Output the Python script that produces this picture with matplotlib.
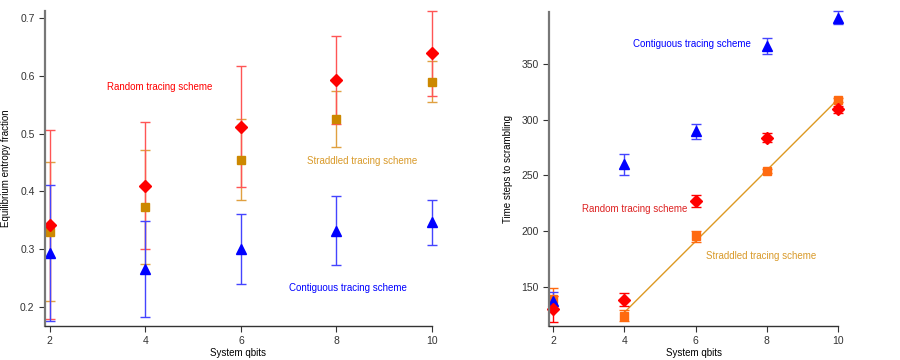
import numpy as np
import matplotlib.pyplot as plt

plt.rcParams['font.family'] = ['Liberation Sans', 'DejaVu Sans']

qbits = [2, 4, 6, 8, 10]

# Equilibrium entropy fraction (left panel)
ent_random = [0.342, 0.410, 0.512, 0.593, 0.639]
ent_random_err = [0.164, 0.110, 0.105, 0.076, 0.074]
ent_straddled = [0.330, 0.373, 0.455, 0.525, 0.590]
ent_straddled_err = [0.120, 0.099, 0.070, 0.049, 0.036]
ent_contig = [0.293, 0.266, 0.300, 0.332, 0.346]
ent_contig_err = [0.118, 0.083, 0.060, 0.060, 0.039]

# Time steps to scrambling (right panel)
scr_random = [130, 138.4, 226.9, 284.0, 309.3]
scr_random_err = [12, 5.7, 5.5, 4, 3]
scr_straddled = [139.5, 124, 195.5, 254.2, 317.5]
scr_straddled_err = [9, 5, 5, 2, 2]
scr_contig = [137.4, 260, 289.7, 366.2, 391.6]
scr_contig_err = [8, 9.5, 6.7, 7.5, 6]

RED = '#ff0000'
BLUE = '#0000ff'
GOLD = '#cc8800'
GOLD_ERR = '#e0a040'
ORANGE = '#ff6a10'
FIT = '#dd9922'

fig = plt.figure(figsize=(9, 3.6), dpi=100)
ax1 = fig.add_axes([0.05, 0.095, 0.43, 0.875])
ax2 = fig.add_axes([0.61, 0.095, 0.3214, 0.8725])


def style(ax):
    for s in ['top', 'right']:
        ax.spines[s].set_visible(False)
    ax.spines['left'].set_color('#777777')
    ax.spines['left'].set_linewidth(1.6)
    ax.spines['bottom'].set_color('#333333')
    ax.spines['bottom'].set_linewidth(1.0)
    ax.tick_params(labelsize=7.5, length=4, width=0.8, colors='#333333', direction='out')
    ax.set_xticks(qbits)
    ax.set_xlabel('System qbits', fontsize=7, labelpad=1)


ekw = dict(elinewidth=1.0, capsize=3.5, capthick=1.0, linestyle='none', clip_on=False)

# left panel
ax1.errorbar(qbits, ent_straddled, yerr=ent_straddled_err, marker='s', ms=6, color=GOLD,
             ecolor=GOLD_ERR, **ekw)
ax1.errorbar(qbits, ent_random, yerr=ent_random_err, marker='D', ms=6, color=RED,
             ecolor='#ff5555', **ekw)
ax1.errorbar(qbits, ent_contig, yerr=ent_contig_err, marker='^', ms=6.5, color=BLUE,
             ecolor='#4444ff', **ekw)
ax1.set_xlim(1.9, 10.0)
ax1.set_ylim(0.167, 0.7127)
ax1.set_yticks([0.2, 0.3, 0.4, 0.5, 0.6, 0.7])
ax1.set_ylabel('Equilibrium entropy fraction', fontsize=7)
ax1.yaxis.set_label_coords(-0.088, 0.5)
style(ax1)
ax1.text(3.2, 0.58, 'Random tracing scheme', color=RED, fontsize=7, va='center')
ax1.text(7.39, 0.452, 'Straddled tracing scheme', color='#d99a2a', fontsize=7, va='center')
ax1.text(7.01, 0.2326, 'Contiguous tracing scheme', color=BLUE, fontsize=7, va='center')

# right panel
fit_x = np.array(qbits[1:])
coef = np.polyfit(fit_x, scr_straddled[1:], 1)
ax2.plot(fit_x, np.polyval(coef, fit_x), color=FIT, lw=1.0, clip_on=False)
ax2.errorbar(qbits, scr_straddled, yerr=scr_straddled_err, marker='s', ms=6, color=ORANGE,
             ecolor=ORANGE, **ekw)
ax2.errorbar(qbits, scr_contig, yerr=scr_contig_err, marker='^', ms=6.5, color=BLUE,
             ecolor='#4444ff', **ekw)
ax2.errorbar(qbits, scr_random, yerr=scr_random_err, marker='D', ms=6, color=RED,
             ecolor=RED, **ekw)
ax2.set_xlim(1.89, 10.0)
ax2.set_ylim(115, 397)
ax2.set_yticks([150, 200, 250, 300, 350])
ax2.set_ylabel('Time steps to scrambling', fontsize=7)
ax2.yaxis.set_label_coords(-0.125, 0.5)
style(ax2)
ax2.text(4.24, 368, 'Contiguous tracing scheme', color=BLUE, fontsize=7, va='center')
ax2.text(2.82, 219.7, 'Random tracing scheme', color='#dd2222', fontsize=7, va='center')
ax2.text(6.29, 177.3, 'Straddled tracing scheme', color='#d99a2a', fontsize=7, va='center')

plt.savefig('out.png', dpi=100)
